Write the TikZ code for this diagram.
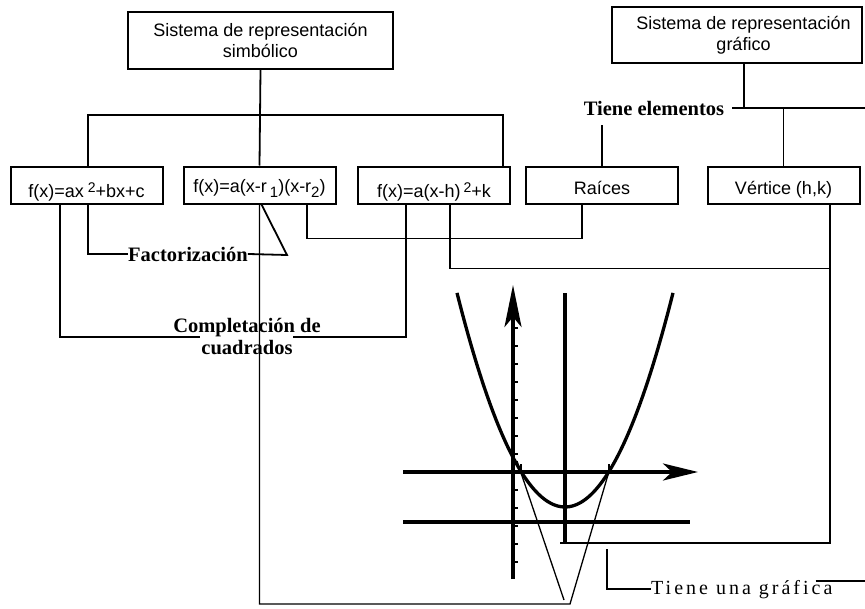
\documentclass[tikz,border=0pt]{standalone}
\usepackage{fontspec}
\setmainfont{Liberation Serif}
\setsansfont{Liberation Sans}
\usetikzlibrary{arrows.meta}
\tikzset{
  box/.style={draw, line width=2pt, font=\sffamily\fontsize{18}{21}\selectfont, align=center, inner sep=0pt},
  rowbox/.style={box, minimum width=152pt, minimum height=37pt, text height=13pt, text depth=4pt},
  lbl/.style={font=\bfseries\fontsize{20.5}{22}\selectfont, inner sep=0pt, align=center},
  conn/.style={line width=1.8pt},
  thinline/.style={line width=1.3pt},
  gline/.style={line width=3.3pt},
  tick/.style={line width=2.4pt},
}
\newcommand{\supr}[1]{\raisebox{5pt}{\fontsize{14}{14}\selectfont #1}}
\newcommand{\subr}[1]{\raisebox{-5pt}{\fontsize{15}{15}\selectfont #1}}
\begin{document}
\begin{tikzpicture}[x=1pt,y=-1pt]
\useasboundingbox (0,0) rectangle (865,608);

% ---- boxes ----
\node[box, minimum width=265pt, minimum height=57pt] (symb) at (260.5,40.5) {Sistema de representación\\simbólico};
\node[box, minimum width=250pt, minimum height=56pt] (graf) at (737,35) {\hspace*{13pt}Sistema de representación\\\hspace*{13pt}gráfico};

\node[rowbox] (b1) at (86.5,185) {\raisebox{-7.5pt}{f(x)=ax\hspace{4pt}\supr{2}+bx+c}};
\node[rowbox] (b2) at (259.5,185) {\raisebox{-2.5pt}{f(x)=a(x-r\hspace{3pt}\subr{1})(x-r\subr{2})}};
\node[rowbox] (b3) at (434,185) {\raisebox{-7.5pt}{f(x)=a(x-h)\hspace{3pt}\supr{2}+k}};
\node[rowbox] (raices) at (602,185) {\raisebox{-4.5pt}{Raíces}};
\node[rowbox] (vert) at (783.5,185) {\raisebox{-4.5pt}{Vértice (h,k)}};

% ---- labels ----
\node[lbl, anchor=base] (elem) at (654,115) {Tiene elementos};
\node[lbl, anchor=base west] (fact) at (128,261) {Factorización};
\node[lbl] (comp) at (247,336) {Completación de\\cuadrados};
\node[font=\fontsize{20}{22}\selectfont\addfontfeature{LetterSpace=15}, inner sep=0pt, anchor=base west] (tg) at (651,594) {Tiene una gráfica};

% ---- coordinates ----
\coordinate (bar) at (260,115);
\coordinate (redge) at (865,108);
\coordinate (redge2) at (865,581);
\coordinate (compL) at (200,337);
\coordinate (compR) at (293,337);
\coordinate (fk) at (287,255);
\coordinate (rootR) at (610,468);
\coordinate (rootL) at (517,461);
\coordinate (vbotL) at (564,600);
\coordinate (vbot) at (570,604);
\coordinate (axbot) at (560,543);
\coordinate (tgtop) at (607,549);

% ---- symbolic tree ----
\draw[conn] (symb.south) -- (b2.north);
\draw[conn] ([xshift=1.5pt]b1.north) |- (bar) -| ([xshift=-8pt]b3.north east);

% ---- graphic tree ----
\draw[conn] ([xshift=7pt]graf.south) -- ([xshift=7pt]graf.south |- redge);
\draw[conn] ([xshift=8pt]elem.east |- redge) -- (redge);
\draw[conn] (vert.north |- redge) -- (vert.north);
\draw[conn] ([yshift=-10pt]elem.south -| raices.north) -- (raices.north);

% ---- lower connectors ----
\draw[conn] ([xshift=1.5pt]b1.south) |- (fact.west);
\draw[conn] (fact.east) -- (fk) -- ([xshift=2pt]b2.south);
\draw[conn] ([xshift=-26.5pt]b1.south) |- (compL);
\draw[conn] (compR) -| ([xshift=-28pt]b3.south);
\draw[conn] ([xshift=47.5pt]b2.south) -- ++(0,34) -| ([xshift=-20pt]raices.south);
\draw[conn] ([xshift=16pt]b3.south) -- ++(0,64) -| ([xshift=46.5pt]vert.south);
\draw[conn] ([xshift=46.5pt]vert.south) |- (axbot);
\draw[thinline] (b2.south) |- (vbot) -- (rootR);
\draw[thinline] (rootL) -- (vbotL);
\draw[thinline] (tgtop) |- (tg.west);
\draw[thinline] ([xshift=-17pt]tg.east |- redge2) -- (redge2);

% ---- graph ----
\draw[gline] plot[domain=457:673, samples=80, smooth] (\x,{507-0.01835*(\x-565)^2});
\draw[gline, -{Stealth[length=35pt,width=17pt,inset=9pt]}] (403,472) -- (698,472);
\draw[gline, -{Stealth[length=42pt,width=17pt,inset=10pt]}] (513,579) -- (513,285);
\foreach \t in {0,...,13} \draw[tick] (514,{328+18*\t}) -- (518,{328+18*\t});
\draw[tick] (521,472) -- (521,464);
\draw[tick] (609,472) -- (609,464);
\draw[gline] (403,522) -- (690,522);
\draw[gline] (565,293) -- (565,543);
\end{tikzpicture}
\end{document}
